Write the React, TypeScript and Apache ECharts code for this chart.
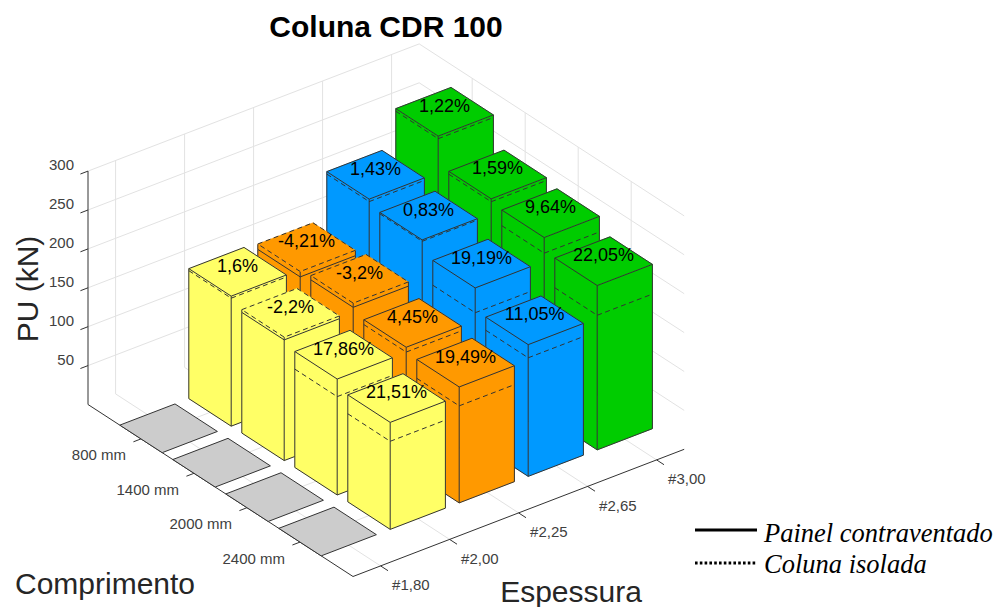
import React, { useEffect, useRef } from "react";
import * as echarts from "echarts";

const espessuraLabels = ["#1,80", "#2,00", "#2,25", "#2,65", "#3,00"];
const comprimentoLabels = ["800 mm", "1400 mm", "2000 mm", "2400 mm"];
const pesoTicks = [50, 100, 150, 200, 250, 300];

// kN, one value per comprimento. #1,80 has no data and lies flat on the floor.
const painel180 = [0, 0, 0, 0];
const painel200 = [167.1, 155.1, 149, 137.5];
const painel225 = [157.8, 162.9, 155.8, 149];
const painel265 = [223.7, 215.5, 198, 169.3];
const painel300 = [270.6, 234.2, 228.7, 211.2];

const coluna180 = [0, 0, 0, 0];
const coluna200 = [164.5, 158.6, 126.4, 113.2];
const coluna225 = [164.7, 168.3, 149.6, 124.7];
const coluna265 = [220.5, 213.7, 166.1, 152.4];
const coluna300 = [267.3, 230.5, 208.6, 173];

const rotulo180 = ["", "", "", ""];
const rotulo200 = ["1,6%", "-2,2%", "17,86%", "21,51%"];
const rotulo225 = ["-4,21%", "-3,2%", "4,45%", "19,49%"];
const rotulo265 = ["1,43%", "0,83%", "19,19%", "11,05%"];
const rotulo300 = ["1,22%", "1,59%", "9,64%", "22,05%"];

const painel = [painel180, painel200, painel225, painel265, painel300];
const coluna = [coluna180, coluna200, coluna225, coluna265, coluna300];
const rotulos = [rotulo180, rotulo200, rotulo225, rotulo265, rotulo300];
const cores = ["#CCCCCC", "#FFFF66", "#FF9900", "#0099FF", "#00CC00"];

const SANS = '"Liberation Sans", Arial, sans-serif';
const SERIF = '"Liberation Serif", "Times New Roman", serif';
const AXIS = "#333333";
const GRID = "#E2E2E2";
const EDGE = "#333333";
const DASH = [5, 3.5];

// Oblique projection of the 3-D box to the plane of the hidden 2-D axes.
const O = [88, 404.5];
const U = [69, -26.5];
const V = [53, 34.4];
const W = -0.778;
const A_MAX = 4.8;
const B_MAX = 5;
const Z_MAX = 300;
const HALF = 0.4;
const project = (a: number, b: number, z: number): number[] => [
  O[0] + a * U[0] + b * V[0],
  O[1] + a * U[1] + b * V[1] + z * W,
];
const aOf = (i: number) => i + 0.4;
const bOf = (j: number) => j + 1;

type Seg = { p: number[]; q: number[]; color: string };

const gridSegs: Seg[] = [];
pesoTicks.forEach((z) => {
  gridSegs.push({ p: [0, 0, z], q: [A_MAX, 0, z], color: GRID });
  gridSegs.push({ p: [A_MAX, 0, z], q: [A_MAX, B_MAX, z], color: GRID });
});
espessuraLabels.forEach((_, i) => {
  gridSegs.push({ p: [aOf(i), 0, 0], q: [aOf(i), 0, Z_MAX], color: GRID });
  gridSegs.push({ p: [aOf(i), 0, 0], q: [aOf(i), B_MAX, 0], color: GRID });
});
comprimentoLabels.forEach((_, j) => {
  gridSegs.push({ p: [A_MAX, bOf(j), 0], q: [A_MAX, bOf(j), Z_MAX], color: GRID });
  gridSegs.push({ p: [0, bOf(j), 0], q: [A_MAX, bOf(j), 0], color: GRID });
});

const axisSegs: Seg[] = [
  { p: [0, 0, 0], q: [0, 0, Z_MAX], color: AXIS },
  { p: [0, 0, 0], q: [0, B_MAX, 0], color: AXIS },
  { p: [0, B_MAX, 0], q: [A_MAX, B_MAX, 0], color: AXIS },
];
pesoTicks.forEach((z) => axisSegs.push({ p: [0, 0, z], q: [-0.11, 0, z], color: AXIS }));
comprimentoLabels.forEach((_, j) =>
  axisSegs.push({ p: [0, bOf(j), 0], q: [-0.11, bOf(j), 0], color: AXIS })
);
espessuraLabels.forEach((_, i) =>
  axisSegs.push({ p: [aOf(i), B_MAX, 0], q: [aOf(i), B_MAX + 0.14, 0], color: AXIS })
);

type Tick = { text: string; p: number[]; dx: number; dy: number; align: string };
const tickTexts: Tick[] = [
  ...pesoTicks.map((z) => ({ text: String(z), p: [0, 0, z], dx: -14, dy: -6.5, align: "right" })),
  ...comprimentoLabels.map((t, j) => ({ text: t, p: [0, bOf(j), 0], dx: -15, dy: 16, align: "right" })),
  ...espessuraLabels.map((t, i) => ({ text: t, p: [aOf(i), B_MAX, 0], dx: 11.5, dy: 19, align: "left" })),
];

// painter's order: far columns first, then rows from back to front
type Bar = { i: number; j: number };
const bars: Bar[] = [];
for (let i = espessuraLabels.length - 1; i >= 0; i--) {
  for (let j = 0; j < comprimentoLabels.length; j++) bars.push({ i, j });
}

function App() {
  const ref = useRef<HTMLDivElement>(null);
  useEffect(() => {
    document.body.style.margin = "0";
    const chart = echarts.init(ref.current!, null, { renderer: "svg" });

    const segSeries = (segs: Seg[], z: number) => ({
      type: "custom",
      coordinateSystem: "cartesian2d",
      silent: true,
      clip: false,
      z,
      data: segs.map((_, k) => [k, 0]),
      renderItem: (params: any, api: any) => {
        const s = segs[params.dataIndex];
        const a = api.coord(project(s.p[0], s.p[1], s.p[2]));
        const b = api.coord(project(s.q[0], s.q[1], s.q[2]));
        return {
          type: "line",
          shape: { x1: a[0], y1: a[1], x2: b[0], y2: b[1] },
          style: { stroke: s.color, lineWidth: 1, fill: "none" },
        };
      },
    });

    const renderBar = (params: any, api: any) => {
      const { i, j } = bars[params.dataIndex];
      const a = aOf(i);
      const b = bOf(j);
      const zs = painel[i][j];
      const zd = coluna[i][j];
      const zMax = Math.max(zs, zd);
      const fill = cores[i];
      const pt = (da: number, db: number, z: number) =>
        api.coord(project(a + da * HALF, b + db * HALF, z));
      const poly = (pts: number[][], stroke: string | null) => ({
        type: "polygon",
        shape: { points: pts },
        style: { fill, stroke: stroke ?? fill, lineWidth: stroke ? 1 : 0.5 },
      });
      const seg = (p: number[], q: number[], dashed: boolean) => ({
        type: "line",
        shape: { x1: p[0], y1: p[1], x2: q[0], y2: q[1] },
        style: { stroke: EDGE, lineWidth: 1, lineDash: dashed ? DASH : null, fill: "none" },
      });
      const children: any[] = [];
      if (zMax === 0) {
        children.push(poly([pt(-1, -1, 0), pt(1, -1, 0), pt(1, 1, 0), pt(-1, 1, 0)], EDGE));
        return { type: "group", children };
      }
      // faces up to the taller of both heights
      children.push(poly([pt(-1, 1, 0), pt(1, 1, 0), pt(1, 1, zMax), pt(-1, 1, zMax)], null));
      children.push(poly([pt(-1, -1, 0), pt(-1, 1, 0), pt(-1, 1, zMax), pt(-1, -1, zMax)], null));
      children.push(poly([pt(-1, -1, zMax), pt(1, -1, zMax), pt(1, 1, zMax), pt(-1, 1, zMax)], null));
      // solid verticals and base
      children.push(seg(pt(-1, -1, 0), pt(-1, -1, zs), false));
      children.push(seg(pt(-1, 1, 0), pt(-1, 1, zs), false));
      children.push(seg(pt(1, 1, 0), pt(1, 1, zs), false));
      children.push(seg(pt(-1, -1, 0), pt(-1, 1, 0), false));
      children.push(seg(pt(-1, 1, 0), pt(1, 1, 0), false));
      // solid rim
      children.push(seg(pt(-1, -1, zs), pt(-1, 1, zs), false));
      children.push(seg(pt(-1, 1, zs), pt(1, 1, zs), false));
      if (zs >= zd) {
        children.push(seg(pt(-1, -1, zs), pt(1, -1, zs), false));
        children.push(seg(pt(1, -1, zs), pt(1, 1, zs), false));
        children.push(seg(pt(-1, -1, zd), pt(-1, 1, zd), true));
        children.push(seg(pt(-1, 1, zd), pt(1, 1, zd), true));
      } else {
        children.push(seg(pt(-1, -1, zd), pt(1, -1, zd), true));
        children.push(seg(pt(1, -1, zd), pt(1, 1, zd), true));
        children.push(seg(pt(1, 1, zd), pt(-1, 1, zd), true));
        children.push(seg(pt(-1, 1, zd), pt(-1, -1, zd), true));
        children.push(seg(pt(-1, -1, zs), pt(-1, -1, zd), true));
        children.push(seg(pt(-1, 1, zs), pt(-1, 1, zd), true));
        children.push(seg(pt(1, 1, zs), pt(1, 1, zd), true));
      }
      return { type: "group", children };
    };

    const renderLabel = (params: any, api: any) => {
      const { i, j } = bars[params.dataIndex];
      const t = rotulos[i][j];
      if (!t) return null;
      const c = api.coord(project(aOf(i), bOf(j), Math.max(painel[i][j], coluna[i][j])));
      return {
        type: "text",
        style: {
          text: t,
          x: c[0],
          y: c[1] - 6,
          fill: "#000000",
          fontSize: 18,
          fontFamily: SANS,
          align: "center",
          verticalAlign: "middle",
        },
      };
    };

    const renderTick = (params: any, api: any) => {
      const t = tickTexts[params.dataIndex];
      const c = api.coord(project(t.p[0], t.p[1], t.p[2]));
      return {
        type: "text",
        style: {
          text: t.text,
          x: c[0] + t.dx,
          y: c[1] + t.dy,
          fill: "#404040",
          fontSize: 15,
          fontFamily: SANS,
          align: t.align,
          verticalAlign: "middle",
        },
      };
    };

    const axisName = (text: string, x: number, y: number, rotation = 0) => ({
      type: "text",
      x,
      y,
      rotation,
      style: {
        text,
        fill: "#262626",
        fontSize: 30,
        fontFamily: SANS,
        align: "center",
        verticalAlign: "middle",
      },
    });
    const legendText = (text: string, y: number) => ({
      type: "text",
      x: 764,
      y,
      style: {
        text,
        fill: "#000000",
        fontSize: 26.5,
        fontStyle: "italic",
        fontFamily: SERIF,
        align: "left",
        verticalAlign: "middle",
      },
    });

    chart.setOption({
      animation: false,
      backgroundColor: "#ffffff",
      title: {
        text: "Coluna CDR 100",
        left: 381,
        top: 6,
        textAlign: "center",
        textStyle: { fontSize: 30, fontWeight: "bold", color: "#000000", fontFamily: SANS },
      },
      grid: { left: 0, right: 0, top: 0, bottom: 0 },
      xAxis: { type: "value", min: 0, max: 1006, show: false },
      yAxis: { type: "value", min: 0, max: 607, inverse: true, show: false },
      graphic: [
        axisName("PU (kN)", 27, 289, Math.PI / 2),
        axisName("Comprimento", 105, 583),
        axisName("Espessura", 571, 591.5),
        {
          type: "line",
          shape: { x1: 695, y1: 530, x2: 757, y2: 530 },
          style: { stroke: "#000000", lineWidth: 3 },
        },
        {
          type: "line",
          shape: { x1: 695, y1: 563, x2: 757, y2: 563 },
          style: { stroke: "#000000", lineWidth: 3, lineDash: [2.6, 2.2] },
        },
        legendText("Painel contraventado", 533),
        legendText("Coluna isolada", 564),
      ],
      series: [
        segSeries(gridSegs, 1),
        segSeries(axisSegs, 2),
        {
          type: "custom",
          coordinateSystem: "cartesian2d",
          silent: true,
          clip: false,
          z: 3,
          data: tickTexts.map((_, k) => [k, 0]),
          renderItem: renderTick,
        },
        {
          type: "custom",
          coordinateSystem: "cartesian2d",
          silent: true,
          clip: false,
          z: 4,
          data: bars.map((_, k) => [k, 0]),
          renderItem: renderBar,
        },
        {
          type: "custom",
          coordinateSystem: "cartesian2d",
          silent: true,
          clip: false,
          z: 5,
          data: bars.map((_, k) => [k, 0]),
          renderItem: renderLabel,
        },
      ],
    });
    return () => chart.dispose();
  }, []);
  return <div ref={ref} style={{ width: 1006, height: 607 }} />;
}

export default App;
